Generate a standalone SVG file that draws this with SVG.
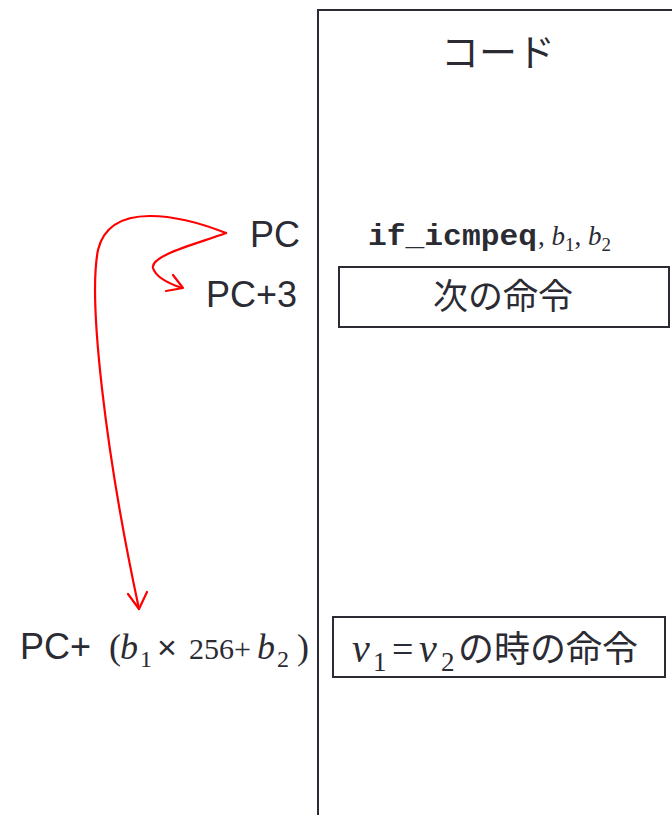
<svg xmlns="http://www.w3.org/2000/svg" width="672" height="815" viewBox="0 0 672 815">
<style>
.sans{font-family:"Liberation Sans","Noto Sans CJK JP",sans-serif;fill:#2b2b33}
.jp{font-family:"Noto Sans CJK JP",sans-serif;fill:#2b2b33}
.ser{font-family:"Liberation Serif",serif;fill:#2b2b33}
.mono{font-family:"Liberation Mono",monospace;font-weight:bold;fill:#2b2b33}
.box{fill:none;stroke:#2b2b33;stroke-width:2}
.arr{fill:none;stroke:#ff0000;stroke-width:2.2;stroke-linecap:round;stroke-linejoin:round}
</style>
<rect width="672" height="815" fill="#fff"/>
<g id="code">
<path class="box" d="M318,815 V10 H680"/>
<text class="jp" x="498" y="66" font-size="38" text-anchor="middle">コード</text>
</g>
<g id="pc">
<text class="sans" x="300" y="247" font-size="36" text-anchor="end">PC</text>
<text class="mono" x="368" y="245" font-size="30" textLength="169" lengthAdjust="spacingAndGlyphs">if_icmpeq</text>
<text class="ser" y="245" font-size="27"><tspan x="538">, </tspan><tspan font-style="italic">b</tspan><tspan font-size="19" dy="6">1</tspan><tspan dy="-6">, </tspan><tspan font-style="italic">b</tspan><tspan font-size="19" dy="6">2</tspan></text>
</g>
<g id="pc3">
<text class="sans" x="297" y="307" font-size="36" text-anchor="end">PC+3</text>
<rect class="box" x="339" y="267" width="330" height="60"/>
<text class="jp" x="503" y="309" font-size="35" text-anchor="middle">次の命令</text>
</g>
<g id="pcb">
<text class="ser" y="659" font-size="36"><tspan class="sans" x="20">PC+</tspan><tspan x="109">(</tspan><tspan x="120" font-style="italic">b</tspan><tspan x="140" y="667" font-size="24">1</tspan><tspan class="sans" x="157" y="659" font-size="34">×</tspan><tspan x="189" font-size="30">256+</tspan><tspan x="257" font-style="italic">b</tspan><tspan x="277" y="667" font-size="24">2</tspan><tspan x="297" y="659">)</tspan></text>
<rect class="box" x="333" y="617" width="332" height="60"/>
<text class="ser" y="662" font-size="40"><tspan x="352" font-style="italic">v</tspan><tspan x="373" y="671" font-size="27">1</tspan><tspan x="392" y="662" font-size="38">=</tspan><tspan x="419" font-style="italic">v</tspan><tspan x="441" y="671" font-size="27">2</tspan><tspan class="jp" x="458" y="662" font-size="36">の時の命令</tspan></text>
</g>
<g id="connectors">
<path class="arr" d="M226,233 C200,243 150,255 153,268 C156,278 170,284 182,288"/>
<path class="arr" d="M173,275 L183,288 L166,291"/>
<path class="arr" d="M226,233 C180,215 110,200 98,250 C88,300 105,450 139,609"/>
<path class="arr" d="M128,594 L139,609 L147,592"/>
</g>
</svg>
